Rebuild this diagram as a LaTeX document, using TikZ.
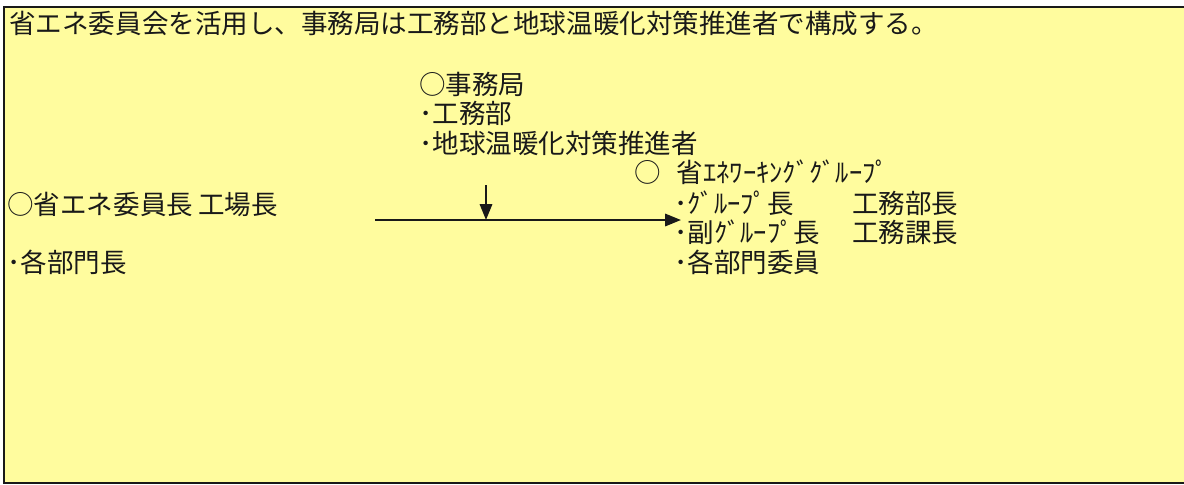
\documentclass[tikz,border=0pt]{standalone}
\usepackage{fontspec}
\setmainfont{Noto Sans CJK JP}
\usetikzlibrary{arrows.meta}
\definecolor{bg}{RGB}{255,252,158}
\definecolor{ink}{RGB}{25,25,25}
\begin{document}
\begin{tikzpicture}[x=0.02cm,y=-0.02cm,
  txt/.style={anchor=west,inner sep=0pt,text=ink,text height=0.88em,text depth=0.12em,font=\fontsize{15.1pt}{17pt}\selectfont},
  arr/.style={draw=ink,line width=1.2pt,-{Triangle[length=9pt,width=7pt]}}]
\useasboundingbox (0,0) rectangle (1184,484);
\fill[bg] (4,7) rectangle (1184,483);
\draw[ink,line width=1.2pt] (1186,7) -- (4,7) -- (4,483) -- (1186,483);
\node[txt] (title) at (9,27) {省エネ委員会を活用し、事務局は工務部と地球温暖化対策推進者で構成する。};
\node[txt] (j1) at (419,88) {○事務局};
\node[txt] (j2) at (419,117) {･工務部};
\node[txt] (j3) at (419,147) {･地球温暖化対策推進者};
\node[txt] (c1) at (7,208) {○省エネ委員長\hspace{0.2em}工場長};
\node[txt] (c2) at (7,266) {･各部門長};
\node[txt] (g0) at (634,176) {○\hspace{0.6em}省ｴﾈﾜｰｷﾝｸﾞｸﾞﾙｰﾌﾟ};
\node[txt] (g1) at (674,207) {･ｸﾞﾙｰﾌﾟ長};
\node[txt] (g1b) at (852,207) {工務部長};
\node[txt] (g2) at (674,236) {･副ｸﾞﾙｰﾌﾟ長};
\node[txt] (g2b) at (852,236) {工務課長};
\node[txt] (g3) at (674,266) {･各部門委員};
\coordinate (s) at (375,220);
\coordinate (e) at (681,220);
\coordinate (d) at (486,185);
\coordinate (m) at (486,220);
\draw[arr] (s) -- (e);
\draw[arr] (d) -- (m);
\end{tikzpicture}
\end{document}
